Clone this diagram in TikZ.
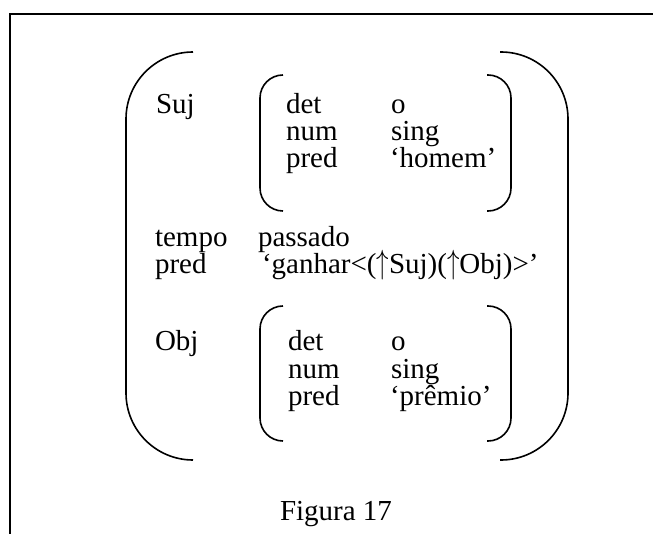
\documentclass[tikz,border=0pt]{standalone}
\usepackage{fontspec}
\setmainfont{Liberation Serif}
\usepackage{tikz}
\usetikzlibrary{positioning}

\newcommand{\uparr}{\scalebox{1}[1.35]{$\uparrow$}}

\tikzset{
  lbl/.style={anchor=base west, inner sep=0pt, outer sep=0pt},
  bigbrak/.style={line width=1.6pt, rounded corners=67pt},
  smallbrak/.style={line width=1.6pt, rounded corners=23pt}
}

\begin{document}
\begin{tikzpicture}[x=1pt, y=-1pt, font=\fontsize{29}{29}\selectfont]

                % Page area
                \useasboundingbox (0,0) rectangle (653,534);

                % Frame (top and left edges only)
                \draw[line width=1.2pt] (653,14) -- (10,14) -- (10,534);

                % Outer brackets
                \draw[bigbrak] (193,52) -- (126,52) -- (126,460) -- (193,460);
                \draw[bigbrak] (500,52) -- (568,52) -- (568,460) -- (500,460);

                % Inner brackets for Suj
                \draw[smallbrak] (283,75) -- (260,75) -- (260,211) -- (283,211);
                \draw[smallbrak] (487,75) -- (511,75) -- (511,211) -- (487,211);

                % Inner brackets for Obj
                \draw[smallbrak] (283,306) -- (260,306) -- (260,441) -- (283,441);
                \draw[smallbrak] (487,306) -- (511,306) -- (511,441) -- (487,441);

                % Suj
                \node[lbl] (suj) at (156,114) {Suj};
                \node[lbl] (sujdet) at (286,114) {det};
                \node[lbl] (sujdetv) at (391,114) {o};
                \node[lbl] (sujnum) at (286,141) {num};
                \node[lbl] (sujnumv) at (391,141) {sing};
                \node[lbl] (sujpred) at (286,168) {pred};
                \node[lbl] (sujpredv) at (390,168) {‘homem’};

                % Tempo and pred
                \node[lbl] (tempo) at (155,247) {tempo};
                \node[lbl] (tempov) at (258,247) {passado};
                \node[lbl] (pred) at (155,274) {pred};
                \node[lbl] (predv) at (262,274) {‘ganhar<(\uparr Suj)(\uparr Obj)>’};

                % Obj
                \node[lbl] (obj) at (155,351) {Obj};
                \node[lbl] (objdet) at (288,351) {det};
                \node[lbl] (objdetv) at (391,351) {o};
                \node[lbl] (objnum) at (288,378) {num};
                \node[lbl] (objnumv) at (391,378) {sing};
                \node[lbl] (objpred) at (288,405) {pred};
                \node[lbl] (objpredv) at (390,405) {‘prêmio’};

                % Caption
                \node[anchor=base, inner sep=0pt] (caption) at (336,520) {Figura 17};
            \end{tikzpicture}
\end{document}
